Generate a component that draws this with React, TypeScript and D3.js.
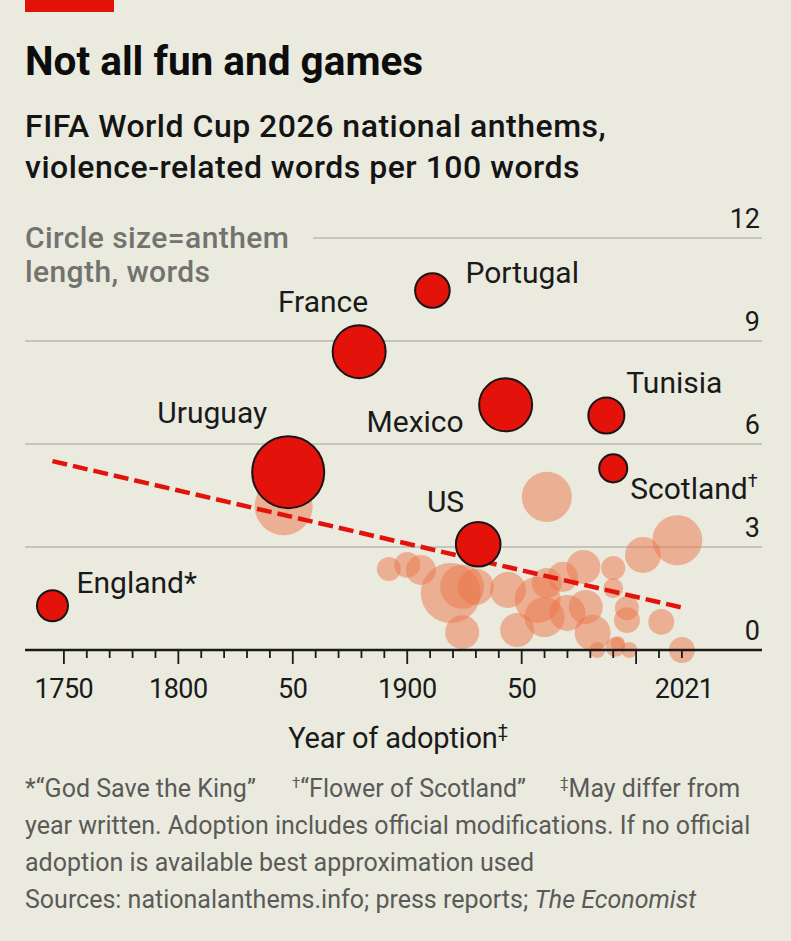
import * as d3 from 'd3';
import { useEffect, useRef } from 'react';

// Highlighted anthems
const countries = ['England', 'Uruguay', 'France', 'Portugal', 'US', 'Mexico', 'Tunisia', 'Scotland'];
const countryMarks = ['*', '', '', '', '', '', '', '†'];
const countryYears = [1745, 1848, 1879, 1911, 1931, 1943, 1987, 1990];
const countryViolence = [1.29, 5.18, 8.69, 10.47, 3.08, 7.14, 6.83, 5.29];
const countryWords = [143, 771, 418, 178, 296, 418, 193, 117];

// Remaining World Cup anthems
const otherYears = [
  1846, 1961, 2018, 2003, 1990, 1977, 1968, 1892, 1900, 1906, 1919, 1924, 1930, 1924, 1944, 1948,
  1957, 1961, 1970, 1978, 1981, 1996, 1996, 2011, 1990, 1983, 1991, 1997, 2020, 1992, 1960,
];
const otherViolence = [
  4.19, 4.46, 3.2, 2.77, 2.39, 2.42, 2.13, 2.36, 2.48, 2.33, 1.66, 1.84, 1.84, 0.52, 1.75, 0.58,
  1.46, 1.95, 1.08, 1.25, 0.5, 1.22, 0.87, 0.82, 1.8, 0, 0.09, 0, 0, 0.2, 0.96,
];
const otherWords = [
  500, 372, 372, 193, 86, 172, 134, 86, 100, 134, 535, 288, 193, 172, 193, 172, 315, 134, 193, 172,
  193, 86, 100, 100, 59, 38, 59, 38, 100, 29, 238,
];

// Trend line
const trendYears = [1745, 2021];
const trendValues = [5.5, 1.22];

// Axes
const yTicks = [0, 3, 6, 9, 12];
const xLabelYears = [1750, 1800, 1850, 1900, 1950, 2021];
const xLabelTexts = ['1750', '1800', '50', '1900', '50', '2021'];

const labelPlacement: Record<string, { dx: number; dy: number; anchor: string }> = {
  England: { dx: 24, dy: -13, anchor: 'start' },
  Uruguay: { dx: -21, dy: -49, anchor: 'end' },
  France: { dx: 9, dy: -40, anchor: 'end' },
  Portugal: { dx: 33, dy: -8, anchor: 'start' },
  US: { dx: -14, dy: -32, anchor: 'end' },
  Mexico: { dx: -42, dy: 27, anchor: 'end' },
  Tunisia: { dx: 20, dy: -23, anchor: 'start' },
  Scotland: { dx: 17, dy: 31, anchor: 'start' },
};

const W = 791;
const H = 941;
const BG = '#eaeadf';
const RED = '#e3120b';
const FONT = 'Roboto, "Noto Sans", sans-serif';

export default function App(): React.ReactElement {
  const svgRef = useRef<SVGSVGElement>(null);

  useEffect(() => {
    if (!svgRef.current) return;
    document.body.style.margin = '0';
    document.body.style.background = BG;

    const svg = d3.select(svgRef.current);
    svg.selectAll('*').remove();
    svg.attr('width', W).attr('height', H).style('display', 'block').style('font-family', FONT);

    svg.append('rect').attr('width', W).attr('height', H).attr('fill', BG);
    svg.append('rect').attr('x', 25).attr('y', 0).attr('width', 89).attr('height', 12).attr('fill', RED);

    // Titles
    svg
      .append('text')
      .attr('x', 25)
      .attr('y', 75)
      .attr('font-size', 40.5)
      .attr('font-weight', 700)
      .attr('fill', '#0d0d0d')
      .text('Not all fun and games');

    const sub = ['FIFA World Cup 2026 national anthems,', 'violence-related words per 100 words'];
    svg
      .selectAll('.subtitle')
      .data(sub)
      .enter()
      .append('text')
      .attr('class', 'subtitle')
      .attr('x', 25)
      .attr('y', (_, i) => 137 + i * 41)
      .attr('font-size', 32)
      .attr('font-weight', 500)
      .attr('letter-spacing', 0.5)
      .attr('fill', '#141414')
      .text((d) => d);

    const x = d3.scaleLinear().domain([1733, 2055]).range([25, 762]);
    const y = d3.scaleLinear().domain([0, 12]).range([650, 238]);
    const r = d3.scaleSqrt().domain([0, 1000]).range([0, 41]);

    // Legend note
    svg
      .selectAll('.legend')
      .data(['Circle size=anthem', 'length, words'])
      .enter()
      .append('text')
      .attr('class', 'legend')
      .attr('x', 25)
      .attr('y', (_, i) => 248 + i * 34)
      .attr('font-size', 30)
      .attr('font-weight', 500)
      .attr('letter-spacing', 0.4)
      .attr('fill', '#72726e')
      .text((d) => d);

    // Grid lines
    svg
      .selectAll('.grid')
      .data(yTicks.filter((t) => t > 0))
      .enter()
      .append('line')
      .attr('class', 'grid')
      .attr('x1', (d) => (d === 12 ? 313 : x.range()[0]))
      .attr('x2', x.range()[1])
      .attr('y1', (d) => y(d))
      .attr('y2', (d) => y(d))
      .attr('stroke', '#b9b9b1')
      .attr('stroke-width', 1.6);

    svg
      .selectAll('.ytick')
      .data(yTicks)
      .enter()
      .append('text')
      .attr('class', 'ytick')
      .attr('x', 760)
      .attr('y', (d) => y(d) - 10)
      .attr('text-anchor', 'end')
      .attr('font-size', 27)
      .attr('fill', '#1a1a1a')
      .text((d) => d);

    // Other anthems
    const others = otherYears.map((yr, i) => ({ yr, v: otherViolence[i], w: otherWords[i] }));
    svg
      .append('g')
      .selectAll('circle')
      .data(others)
      .enter()
      .append('circle')
      .attr('cx', (d) => x(d.yr))
      .attr('cy', (d) => y(d.v))
      .attr('r', (d) => r(d.w))
      .attr('fill', '#eb7649')
      .attr('fill-opacity', 0.5);

    // Trend line
    const line = d3
      .line<number>()
      .x((d) => x(d))
      .y((_, i) => y(trendValues[i]));
    svg
      .append('path')
      .attr('d', line(trendYears))
      .attr('fill', 'none')
      .attr('stroke', RED)
      .attr('stroke-width', 4.5)
      .attr('stroke-dasharray', '15,6');

    // Axis
    const axisG = svg.append('g');
    axisG
      .append('line')
      .attr('x1', x.range()[0])
      .attr('x2', x.range()[1])
      .attr('y1', y(0))
      .attr('y2', y(0))
      .attr('stroke', '#1a1a1a')
      .attr('stroke-width', 2.4);
    axisG
      .selectAll('.xtick')
      .data(d3.range(1750, 2021, 10))
      .enter()
      .append('line')
      .attr('x1', (d) => x(d))
      .attr('x2', (d) => x(d))
      .attr('y1', y(0))
      .attr('y2', (d) => y(0) + (d % 50 === 0 ? 14 : 8))
      .attr('stroke', '#1a1a1a')
      .attr('stroke-width', 1.8);
    axisG
      .selectAll('.xlabel')
      .data(xLabelYears)
      .enter()
      .append('text')
      .attr('x', (d) => x(d))
      .attr('y', 698)
      .attr('text-anchor', 'middle')
      .attr('font-size', 27)
      .attr('letter-spacing', -0.5)
      .attr('fill', '#1a1a1a')
      .text((_, i) => xLabelTexts[i]);

    const xTitle = axisG
      .append('text')
      .attr('x', 398)
      .attr('y', 748)
      .attr('text-anchor', 'middle')
      .attr('font-size', 29)
      .attr('letter-spacing', -0.2)
      .attr('fill', '#1a1a1a');
    xTitle.append('tspan').text('Year of adoption');
    xTitle.append('tspan').attr('font-size', 18).attr('dy', -11).text('‡');

    // Highlighted anthems
    const main = countries.map((c, i) => ({
      c,
      mark: countryMarks[i],
      yr: countryYears[i],
      v: countryViolence[i],
      w: countryWords[i],
    }));
    svg
      .append('g')
      .selectAll('circle')
      .data(main)
      .enter()
      .append('circle')
      .attr('cx', (d) => x(d.yr))
      .attr('cy', (d) => y(d.v))
      .attr('r', (d) => r(d.w))
      .attr('fill', RED)
      .attr('stroke', '#1c1414')
      .attr('stroke-width', 2);

    const labels = svg
      .append('g')
      .selectAll('text')
      .data(main)
      .enter()
      .append('text')
      .attr('x', (d) => x(d.yr) + labelPlacement[d.c].dx)
      .attr('y', (d) => y(d.v) + labelPlacement[d.c].dy)
      .attr('text-anchor', (d) => labelPlacement[d.c].anchor)
      .attr('font-size', 30)
      .attr('fill', '#1a1a1a');
    labels.append('tspan').text((d) => (d.mark === '*' ? d.c + '*' : d.c));
    labels
      .filter((d) => d.mark === '†')
      .append('tspan')
      .attr('font-size', 18)
      .attr('dy', -12)
      .text('†');

    // Footnotes
    const foot = svg.append('g').attr('font-size', 25).attr('fill', '#5a5a58');
    const l1 = foot.append('text').attr('y', 797);
    l1.append('tspan').attr('x', 25).text('*“God Save the King”');
    l1.append('tspan').attr('x', 292).attr('font-size', 15).attr('dy', -9).text('†');
    l1.append('tspan').attr('dy', 9).text('“Flower of Scotland”');
    l1.append('tspan').attr('x', 560).attr('font-size', 15).attr('dy', -9).text('‡');
    l1.append('tspan').attr('dy', 9).text('May differ from');
    foot
      .append('text')
      .attr('x', 25)
      .attr('y', 834)
      .text('year written. Adoption includes official modifications. If no official');
    foot.append('text').attr('x', 25).attr('y', 871).text('adoption is available best approximation used');
    const src = foot.append('text').attr('x', 25).attr('y', 908);
    src.append('tspan').text('Sources: nationalanthems.info; press reports; ');
    src.append('tspan').attr('font-style', 'italic').text('The Economist');
  }, []);

  return <svg ref={svgRef} />;
}
